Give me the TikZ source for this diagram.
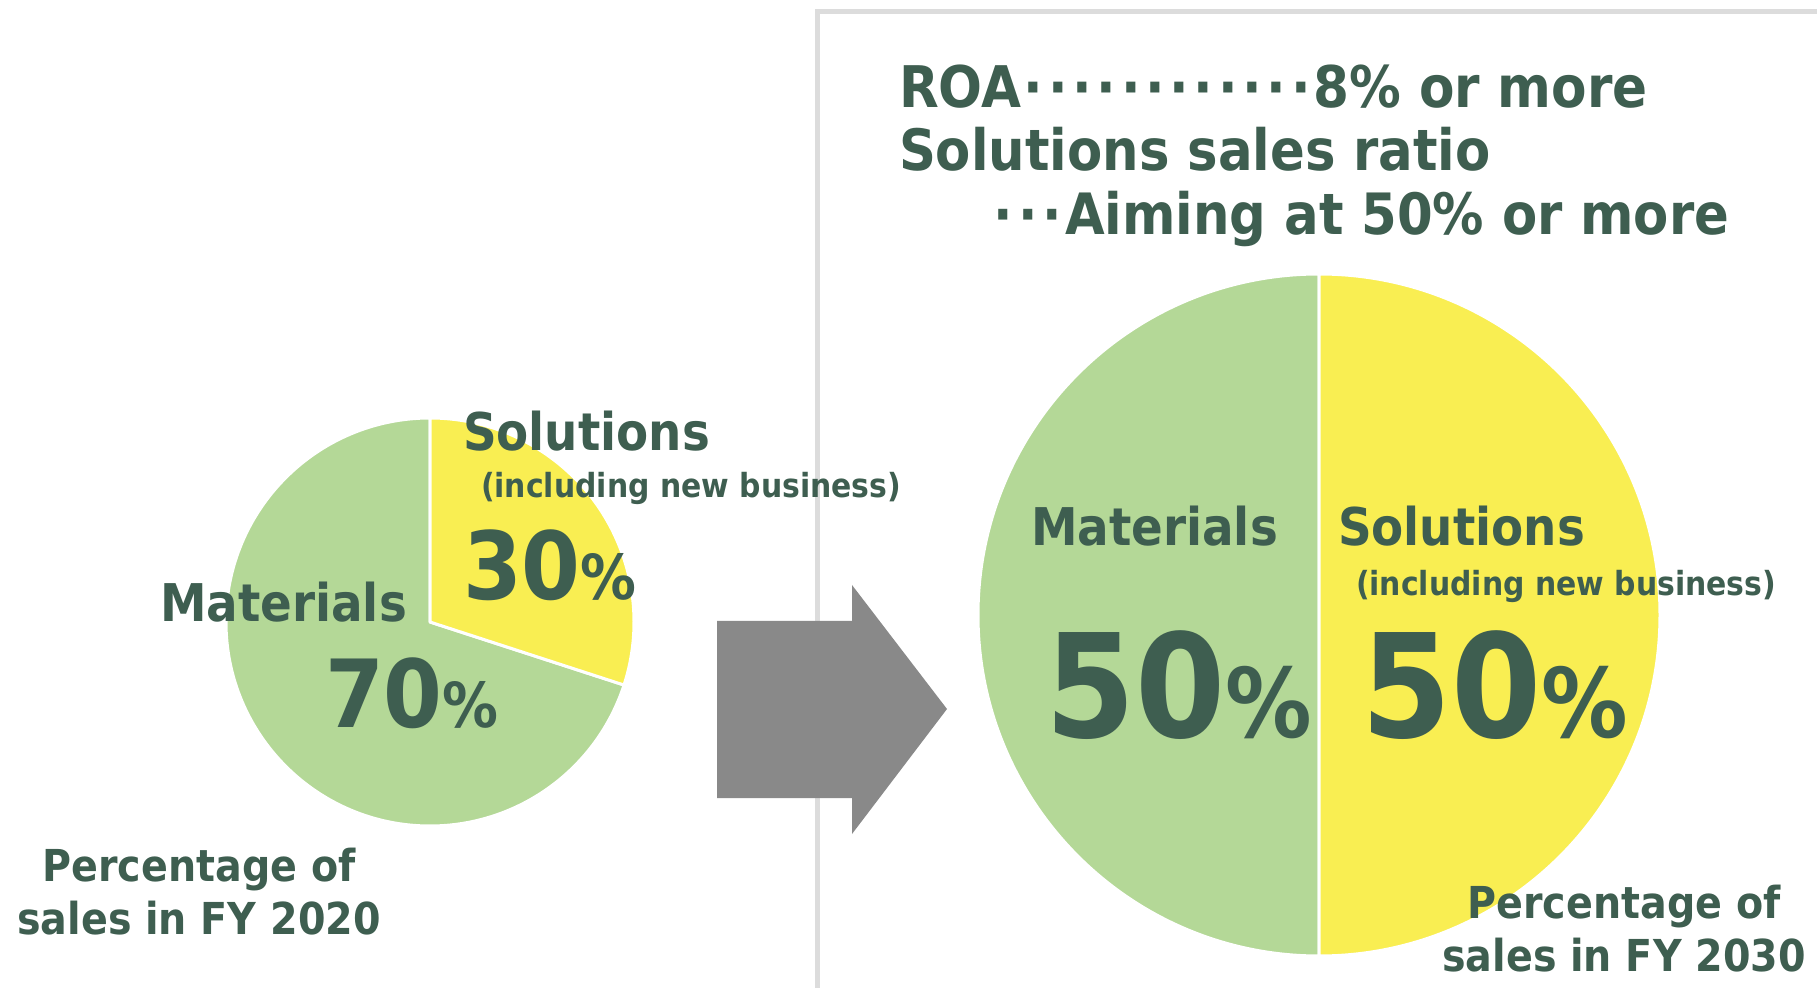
\documentclass[tikz,border=0pt]{standalone}
\usepackage{fontspec}
\newfontfamily\vb{DejaVu Sans}[FakeStretch=0.9]
\definecolor{tg}{RGB}{62,94,80}
\definecolor{lgreen}{RGB}{180,216,151}
\definecolor{lyellow}{RGB}{249,238,82}
\definecolor{agray}{RGB}{137,137,137}
\definecolor{bgray}{RGB}{220,220,220}
\newcommand\fsz[1]{\fontsize{#1}{1.2\dimexpr#1pt\relax}\selectfont}
\newcommand\mydots[1]{\hbox to #1{\xleaders\hbox to 12pt{\hss·\hss}\hfill}}
\tikzset{
  lbl/.style={anchor=base west, inner sep=0pt, outer sep=0pt, text=tg, font=\vb\bfseries},
  slice/.style={draw=white, line width=1.5pt, line join=round},
  bord/.style={draw=bgray, line width=2.5pt},
}
\begin{document}
\begin{tikzpicture}[x=0.5pt,y=0.5pt]
\useasboundingbox (0,0) rectangle (1817,987);
% frame
\draw[bord] (817,-5) -- (817,975) -- (1822,975);
% small pie
\coordinate (sc) at (430,365);
\fill[lgreen, slice] (sc) -- ++(90:204) arc[start angle=90, end angle=342, radius=204] -- cycle;
\fill[lyellow, slice] (sc) -- ++(90:204) arc[start angle=90, end angle=-18, radius=204] -- cycle;
% big pie
\coordinate (bc) at (1319,372);
\fill[lgreen, slice] (bc) -- ++(90:341) arc[start angle=90, end angle=270, radius=341] -- cycle;
\fill[lyellow, slice] (bc) -- ++(90:341) arc[start angle=90, end angle=-90, radius=341] -- cycle;
% arrow
\fill[agray] (717,366) -- (852,366) -- (852,402) -- (947,278) -- (852,153) -- (852,189) -- (717,189) -- cycle;
% small pie labels
\node[lbl] (sSol) at (463,536) {\fsz{26}Solutions};
\node[lbl] (sInc) at (481,489) {\fsz{16.6}(including new business)};
\node[lbl] (s30) at (463,387) {\fsz{47}30\fsz{31}\%};
\node[lbl] (sMat) at (160,365) {\fsz{26}Materials};
\node[lbl] (s70) at (325,260) {\fsz{47}70\fsz{31}\%};
% big pie labels
\node[lbl] (bMat) at (1031,441) {\fsz{26}Materials};
\node[lbl] (bSol) at (1338,441) {\fsz{26}Solutions};
\node[lbl] (bInc) at (1356,391) {\fsz{16.6}(including new business)};
\node[lbl] (b50l) at (1045,250) {\fsz{72}50\fsz{48}\%};
\node[lbl] (b50r) at (1361,250) {\fsz{72}50\fsz{48}\%};
% targets
\node[lbl] (t1) at (899,879) {\fsz{28.7}ROA\mydots{146pt}8\% or more};
\node[lbl] (t2) at (899,816) {\fsz{28.5}Solutions sales ratio};
\node[lbl] (t3) at (991,752) {\fsz{28.5}\mydots{37pt}Aiming at 50\% or more};
% captions
\node[lbl, anchor=south, align=center, text depth=0pt, font=\vb\bfseries\fontsize{22}{26.5}\selectfont] (c20) at (199,53) {Percentage of\\sales in FY 2020};
\node[lbl, anchor=south, align=center, text depth=0pt, font=\vb\bfseries\fontsize{22}{26.5}\selectfont] (c30) at (1624,16) {Percentage of\\sales in FY 2030};
\end{tikzpicture}
\end{document}
